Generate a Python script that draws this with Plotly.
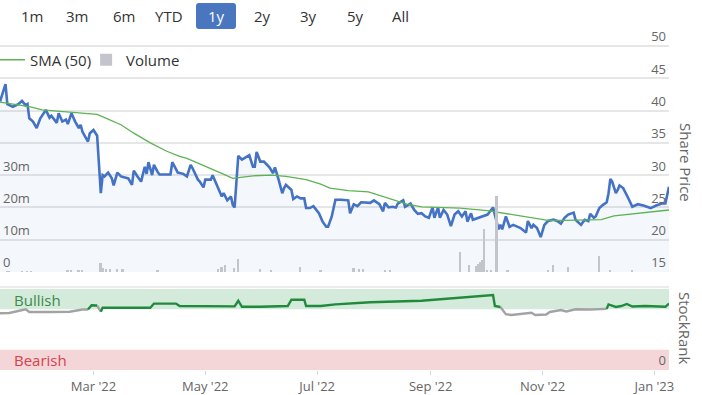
import plotly.graph_objects as go

# ---------------- data ----------------
price_dates = [
    "2022-01-09", "2022-01-12", "2022-01-13", "2022-01-16", "2022-01-19", "2022-01-21", "2022-01-23", "2022-01-24",
    "2022-01-25", "2022-01-27", "2022-01-29", "2022-01-31", "2022-02-03", "2022-02-05", "2022-02-06", "2022-02-09",
    "2022-02-10", "2022-02-12", "2022-02-14", "2022-02-15", "2022-02-17", "2022-02-19", "2022-02-21", "2022-02-22",
    "2022-02-23", "2022-02-26", "2022-02-27", "2022-03-01", "2022-03-03", "2022-03-05", "2022-03-06", "2022-03-07",
    "2022-03-09", "2022-03-11", "2022-03-12", "2022-03-14", "2022-03-16", "2022-03-18", "2022-03-20", "2022-03-22",
    "2022-03-23", "2022-03-25", "2022-03-27", "2022-03-28", "2022-03-29", "2022-03-30", "2022-03-31", "2022-04-02",
    "2022-04-03", "2022-04-05", "2022-04-06", "2022-04-12", "2022-04-13", "2022-04-16", "2022-04-19", "2022-04-21",
    "2022-04-23", "2022-04-24", "2022-04-27", "2022-04-28", "2022-04-30", "2022-05-01", "2022-05-04", "2022-05-05",
    "2022-05-08", "2022-05-10", "2022-05-11", "2022-05-13", "2022-05-15", "2022-05-16", "2022-05-17", "2022-05-19",
    "2022-05-21", "2022-05-23", "2022-05-25", "2022-05-27", "2022-05-28", "2022-05-29", "2022-05-31", "2022-06-02",
    "2022-06-05", "2022-06-07", "2022-06-08", "2022-06-10", "2022-06-12", "2022-06-13", "2022-06-14", "2022-06-17",
    "2022-06-18", "2022-06-20", "2022-06-22", "2022-06-24", "2022-06-25", "2022-06-27", "2022-06-29", "2022-07-02",
    "2022-07-04", "2022-07-06", "2022-07-07", "2022-07-09", "2022-07-11", "2022-07-14", "2022-07-18", "2022-07-19",
    "2022-07-21", "2022-07-23", "2022-07-25", "2022-07-30", "2022-08-01", "2022-08-04", "2022-08-06", "2022-08-07",
    "2022-08-09", "2022-08-11", "2022-08-13", "2022-08-14", "2022-08-17", "2022-08-18", "2022-08-21", "2022-08-23",
    "2022-08-25", "2022-08-27", "2022-08-29", "2022-08-31", "2022-09-02", "2022-09-03", "2022-09-05", "2022-09-06",
    "2022-09-08", "2022-09-10", "2022-09-12", "2022-09-14", "2022-09-16", "2022-09-18", "2022-09-20", "2022-09-21",
    "2022-09-23", "2022-09-24", "2022-09-27", "2022-10-02", "2022-10-05", "2022-10-06", "2022-10-08", "2022-10-09",
    "2022-10-10", "2022-10-12", "2022-10-14", "2022-10-16", "2022-10-20", "2022-10-23", "2022-10-24", "2022-10-26",
    "2022-10-27", "2022-10-29", "2022-10-31", "2022-11-02", "2022-11-04", "2022-11-07", "2022-11-09", "2022-11-11",
    "2022-11-13", "2022-11-15", "2022-11-18", "2022-11-19", "2022-11-22", "2022-11-24", "2022-11-26", "2022-11-27",
    "2022-11-29", "2022-11-30", "2022-12-02", "2022-12-04", "2022-12-06", "2022-12-07", "2022-12-08", "2022-12-09",
    "2022-12-11", "2022-12-12", "2022-12-13", "2022-12-15", "2022-12-17", "2022-12-18", "2022-12-20", "2022-12-23",
    "2022-12-26", "2022-12-30", "2023-01-02", "2023-01-05", "2023-01-07", "2023-01-08", "2023-01-09",
]
price_values = [
    41.4, 44.1, 41.0, 40.6, 41.0, 41.5, 40.8, 41.0,
    38.8, 38.3, 37.3, 38.8, 40.1, 38.9, 39.2, 38.1,
    39.6, 38.3, 38.6, 37.9, 39.6, 38.3, 37.3, 37.8,
    36.7, 35.2, 36.5, 37.0, 36.1, 27.2, 30.0, 29.8,
    30.4, 29.5, 28.4, 30.4, 29.8, 29.6, 29.5, 28.5,
    30.7, 29.8, 29.0, 30.2, 31.3, 30.2, 32.0, 30.0,
    31.6, 30.5, 30.1, 30.1, 32.0, 30.4, 30.2, 29.8,
    31.6, 31.1, 29.3, 29.0, 28.1, 29.3, 29.3, 30.0,
    28.0, 26.7, 27.2, 26.1, 26.7, 25.4, 25.0, 33.0,
    32.4, 32.8, 33.1, 31.3, 31.3, 33.6, 32.1, 32.1,
    31.2, 30.3, 31.2, 29.3, 27.2, 28.0, 28.5, 27.7,
    26.3, 26.7, 26.4, 26.4, 24.9, 24.9, 25.2, 24.1,
    22.8, 22.0, 22.0, 23.6, 26.2, 26.2, 26.1, 24.1,
    25.5, 25.2, 25.8, 25.7, 26.1, 25.5, 24.4, 25.7,
    25.0, 25.1, 25.0, 25.6, 26.1, 25.1, 25.6, 24.6,
    24.0, 24.1, 23.6, 23.4, 25.0, 23.4, 25.0, 23.4,
    24.6, 23.9, 22.1, 23.9, 24.4, 23.6, 24.4, 22.8,
    24.1, 23.1, 23.4, 23.9, 25.0, 23.9, 21.6, 22.3,
    21.6, 23.6, 22.0, 22.3, 21.8, 21.1, 22.9, 21.8,
    22.3, 21.8, 20.4, 22.3, 22.9, 23.1, 22.9, 22.5,
    23.4, 23.9, 24.2, 23.1, 22.3, 23.1, 22.9, 24.0,
    23.4, 23.6, 24.9, 25.4, 25.8, 27.2, 29.4, 29.0,
    27.2, 27.7, 28.4, 28.0, 26.7, 26.3, 25.1, 25.5,
    25.3, 24.9, 25.3, 25.6, 25.6, 27.2, 28.2,
]

sma_dates = [
    "2022-01-09", "2022-01-25", "2022-02-01", "2022-02-15", "2022-03-03", "2022-03-08", "2022-03-16", "2022-03-23",
    "2022-04-01", "2022-04-10", "2022-04-17", "2022-04-21", "2022-05-02", "2022-05-09", "2022-05-16", "2022-05-27",
    "2022-06-06", "2022-06-14", "2022-06-25", "2022-07-03", "2022-07-08", "2022-07-18", "2022-07-29", "2022-08-05",
    "2022-08-12", "2022-08-19", "2022-08-27", "2022-09-05", "2022-09-17", "2022-10-02", "2022-10-11", "2022-10-20",
    "2022-10-29", "2022-11-04", "2022-11-13", "2022-11-27", "2022-12-03", "2022-12-10", "2022-12-19", "2022-12-28",
    "2023-01-09",
]
sma_values = [
    41.3, 40.6, 40.1, 39.8, 39.4, 38.8, 37.8, 36.5,
    35.0, 33.7, 32.9, 32.6, 31.3, 30.4, 29.5, 29.9,
    30.0, 29.8, 29.3, 28.6, 28.0, 27.6, 27.4, 26.8,
    26.1, 25.5, 25.1, 25.0, 24.9, 24.5, 24.1, 23.7,
    23.3, 23.0, 23.0, 23.0, 23.1, 23.7, 24.0, 24.3,
    24.6,
]

volume_dates = [
    "2022-01-13", "2022-01-14", "2022-01-21", "2022-01-24", "2022-01-26", "2022-02-15", "2022-02-17", "2022-02-21",
    "2022-02-23", "2022-03-05", "2022-03-06", "2022-03-08", "2022-03-10", "2022-03-14", "2022-03-17", "2022-04-05",
    "2022-05-08", "2022-05-10", "2022-05-12", "2022-05-17", "2022-05-19", "2022-05-31", "2022-06-06", "2022-06-22",
    "2022-07-03", "2022-07-21", "2022-07-24", "2022-07-26", "2022-08-07", "2022-08-10", "2022-09-17", "2022-09-22",
    "2022-09-26", "2022-09-27", "2022-09-28", "2022-09-29", "2022-09-30", "2022-10-02", "2022-10-04", "2022-10-07",
    "2022-10-13", "2022-11-04", "2022-11-07", "2022-11-15", "2022-12-02", "2022-12-08", "2022-12-20",
]
volume_values = [
    0.3e6, 0.3e6, 0.2e6, 0.2e6, 0.2e6, 0.5e6, 0.6e6, 0.5e6,
    0.6e6, 2.7e6, 1.2e6, 1.0e6, 1.0e6, 0.8e6, 0.8e6, 0.6e6,
    1.0e6, 1.5e6, 2.2e6, 1.2e6, 4.0e6, 0.8e6, 0.4e6, 1.5e6,
    0.5e6, 1.2e6, 0.8e6, 1.0e6, 0.5e6, 0.5e6, 6.2e6, 2.2e6,
    2.0e6, 2.5e6, 3.0e6, 3.8e6, 13.2e6, 0.5e6, 0.4e6, 23.5e6,
    0.5e6, 0.5e6, 2.2e6, 1.5e6, 5.0e6, 0.5e6, 0.5e6,
]

rank_dates = [
    "2022-01-09", "2022-01-14", "2022-01-23", "2022-01-25", "2022-02-05", "2022-02-16", "2022-02-23", "2022-02-26",
    "2022-02-28", "2022-03-03", "2022-03-05", "2022-03-06", "2022-03-10", "2022-04-01", "2022-04-03", "2022-04-09",
    "2022-04-15", "2022-04-17", "2022-05-17", "2022-05-19", "2022-05-21", "2022-05-31", "2022-06-15", "2022-06-17",
    "2022-06-24", "2022-06-25", "2022-07-03", "2022-07-11", "2022-07-30", "2022-08-27", "2022-09-12", "2022-09-23",
    "2022-10-05", "2022-10-06", "2022-10-09", "2022-10-12", "2022-10-15", "2022-10-26", "2022-10-28", "2022-11-03",
    "2022-11-05", "2022-11-11", "2022-11-14", "2022-11-19", "2022-11-27", "2022-12-06", "2022-12-07", "2022-12-11",
    "2022-12-14", "2022-12-17", "2022-12-20", "2022-12-27", "2023-01-05", "2023-01-07", "2023-01-09",
]
rank_values = [
    70, 70.4, 75, 71.6, 71.6, 72, 74.7, 74.7,
    80, 79.6, 72, 77, 76.8, 76.8, 82, 82.3,
    82, 79, 78.6, 85.5, 78, 78, 79, 86.8,
    86.8, 79, 79, 81, 83.6, 85.5, 88.5, 89.8,
    92.6, 79, 77.8, 69, 68, 70.6, 68, 68.5,
    71.6, 74, 72.2, 75, 74.7, 75.5, 81, 77.8,
    79, 81.5, 78.4, 79, 78, 78, 82,
]
RANK_THRESHOLD = 76

price_ticks = [15, 20, 25, 30, 35, 40, 45, 50]
volume_ticks = [0, 10e6, 20e6, 30e6]
volume_tick_text = ["0", "10m", "20m", "30m"]
range_buttons = ["1m", "3m", "6m", "YTD", "1y", "2y", "3y", "5y", "All"]
selected_button = "1y"

# ---------------- styling ----------------
FONT = "Open Sans, Noto Sans, sans-serif"
LABEL = "#666666"
GRID = "#e6e6e6"
W, H = 702, 395
RIGHT = 33
PW = W - RIGHT  # plot area width in px (left margin 0)

def py(px):  # pixel row -> paper fraction (t=b=0)
    return 1 - px / H

def px_(x):  # pixel column -> paper fraction
    return x / PW

# main panel: gridline 50 at px 46, gridline 15 at px 272; domain extended upward
P_LO, P_HI = 15, 50
TOP_PX, G50_PX, BOT_PX = 30, 46, 272
per_px = (P_HI - P_LO) / (BOT_PX - G50_PX)
price_top = P_HI + (G50_PX - TOP_PX) * per_px
VOL_PER_PRICE = 70e6 / (P_HI - P_LO)
vol_top = (price_top - P_LO) * VOL_PER_PRICE

fig = go.Figure()

fig.add_trace(go.Bar(
    x=volume_dates, y=volume_values, name="Volume", yaxis="y2", xaxis="x",
    marker=dict(color="#c4c4cc", line=dict(width=0)), width=86400000 * 0.95,
    showlegend=True,
))
fig.add_trace(go.Scatter(
    x=price_dates, y=price_values, name="Share Price", yaxis="y", xaxis="x",
    mode="lines", line=dict(color="#4472c4", width=2.6), fill="tozeroy",
    fillcolor="rgba(68,114,196,0.06)", showlegend=False,
))
fig.add_trace(go.Scatter(
    x=sma_dates, y=sma_values, name="SMA (50)", yaxis="y", xaxis="x",
    mode="lines", line=dict(color="#5cb352", width=1.3), showlegend=True,
))

# StockRank line, green inside the bullish zone, grey otherwise
seg = {"g": ([], []), "a": ([], [])}
prev = None
for i in range(len(rank_values) - 1):
    a, b = rank_values[i], rank_values[i + 1]
    if min(a, b) >= RANK_THRESHOLD:
        col = "g"
    elif max(a, b) < RANK_THRESHOLD:
        col = "a"
    else:
        col = "g" if b >= RANK_THRESHOLD else "a"
    xs, ys = seg[col]
    if col != prev:
        if xs:
            xs.append(None)
            ys.append(None)
        xs.append(rank_dates[i])
        ys.append(a)
    xs.append(rank_dates[i + 1])
    ys.append(b)
    prev = col

fig.add_trace(go.Scatter(x=seg["a"][0], y=seg["a"][1], xaxis="x2", yaxis="y3", mode="lines",
                         line=dict(color="#a3a3a3", width=2.4), showlegend=False, connectgaps=False))
fig.add_trace(go.Scatter(x=seg["g"][0], y=seg["g"][1], xaxis="x2", yaxis="y3", mode="lines",
                         line=dict(color="#218a3c", width=2.4), showlegend=False, connectgaps=False))

xr = ["2022-01-09", "2023-01-09"]
main_dom = [py(BOT_PX), py(TOP_PX)]
rank_dom = [py(370), py(289)]

fig.update_layout(
    width=W, height=H,
    margin=dict(l=0, r=RIGHT, t=0, b=0, autoexpand=False),
    paper_bgcolor="white", plot_bgcolor="white",
    font=dict(family=FONT, color=LABEL, size=13),
    bargap=0,
    xaxis=dict(domain=[0, 1], anchor="y", type="date", range=xr, showticklabels=False,
               showgrid=False, zeroline=False, showline=False, ticks=""),
    xaxis2=dict(domain=[0, 1], anchor="y3", type="date", range=xr, matches="x",
                showgrid=False, zeroline=False, showline=False,
                tick0="2022-03-01", dtick="M2", tickformat="%b '%y",
                ticks="outside", ticklen=4, tickcolor="#d8d8dc", tickwidth=1,
                tickfont=dict(size=13, color=LABEL)),
    yaxis=dict(domain=main_dom, anchor="x", side="right", range=[P_LO, price_top], tickvals=price_ticks,
               ticklabelposition="inside top", ticklabeloverflow="allow",
               showgrid=True, gridcolor=GRID, gridwidth=1.5,
               zeroline=False, showline=False, ticks="", tickfont=dict(size=13, color=LABEL)),
    yaxis2=dict(overlaying="y", anchor="x", side="left", range=[0, vol_top], tickvals=volume_ticks,
                ticktext=volume_tick_text, ticklabelposition="inside top", ticklabeloverflow="allow",
                showgrid=False, zeroline=False, showline=False, ticks="",
                tickfont=dict(size=13, color=LABEL)),
    yaxis3=dict(domain=rank_dom, anchor="x2", side="right", range=[0, 100], tickvals=[0],
                ticklabelposition="inside top", ticklabeloverflow="allow",
                showgrid=False, zeroline=False, showline=False,
                ticks="", tickfont=dict(size=13, color=LABEL)),
    legend=dict(orientation="h", x=0, y=py(60), xanchor="left", yanchor="middle",
                bgcolor="rgba(0,0,0,0)", font=dict(size=15, color="#333333"),
                itemwidth=30, traceorder="reversed", indentation=-10),
    hovermode=False,
)

shapes = [
    dict(type="rect", xref="x2 domain", yref="y3", x0=0, x1=1, y0=75, y1=100,
         fillcolor="#d4eadb", line=dict(width=0), layer="below"),
    dict(type="rect", xref="x2 domain", yref="y3", x0=0, x1=1, y0=0, y1=25,
         fillcolor="#f5d6d8", line=dict(width=0), layer="below"),
    dict(type="line", xref="x2 domain", yref="paper", x0=0, x1=1, y0=py(287), y1=py(287),
         line=dict(color=GRID, width=1.5), layer="below"),
    # selected range button background (rounded)
    dict(type="path", xref="paper", yref="paper", xsizemode="pixel", ysizemode="pixel",
         xanchor=0, yanchor=1,
         path="M 199,-3 L 233,-3 Q 236,-3 236,-6 L 236,-26 Q 236,-29 233,-29 L 199,-29 "
              "Q 196,-29 196,-26 L 196,-6 Q 196,-3 199,-3 Z",
         fillcolor="#4a76c0", line=dict(width=0)),
]
fig.update_layout(shapes=shapes)

button_centers = [32, 77, 124, 169, 216, 262, 308, 355, 400]
ann = []
for lbl, cx in zip(range_buttons, button_centers):
    ann.append(dict(text=lbl, x=px_(cx), y=py(16), xref="paper", yref="paper", showarrow=False,
                    xanchor="center", yanchor="middle",
                    font=dict(size=15, color="white" if lbl == selected_button else "#333333")))
ann += [
    dict(text="Share Price", x=px_(686), y=py(162), xref="paper", yref="paper", showarrow=False,
         textangle=90, xanchor="center", yanchor="middle", font=dict(size=15, color=LABEL)),
    dict(text="StockRank", x=px_(685), y=py(328), xref="paper", yref="paper", showarrow=False,
         textangle=90, xanchor="center", yanchor="middle", font=dict(size=15, color=LABEL)),
    dict(text="Bullish", x=px_(12), y=py(300), xref="paper", yref="paper", showarrow=False,
         xanchor="left", yanchor="middle", font=dict(size=15, color="#3b8a4a")),
    dict(text="Bearish", x=px_(12), y=py(360), xref="paper", yref="paper", showarrow=False,
         xanchor="left", yanchor="middle", font=dict(size=15, color="#d2424f")),
]
fig.update_layout(annotations=ann)

fig.write_html("out.html", config={"displayModeBar": False},
               post_script="document.body.style.margin='0';")
